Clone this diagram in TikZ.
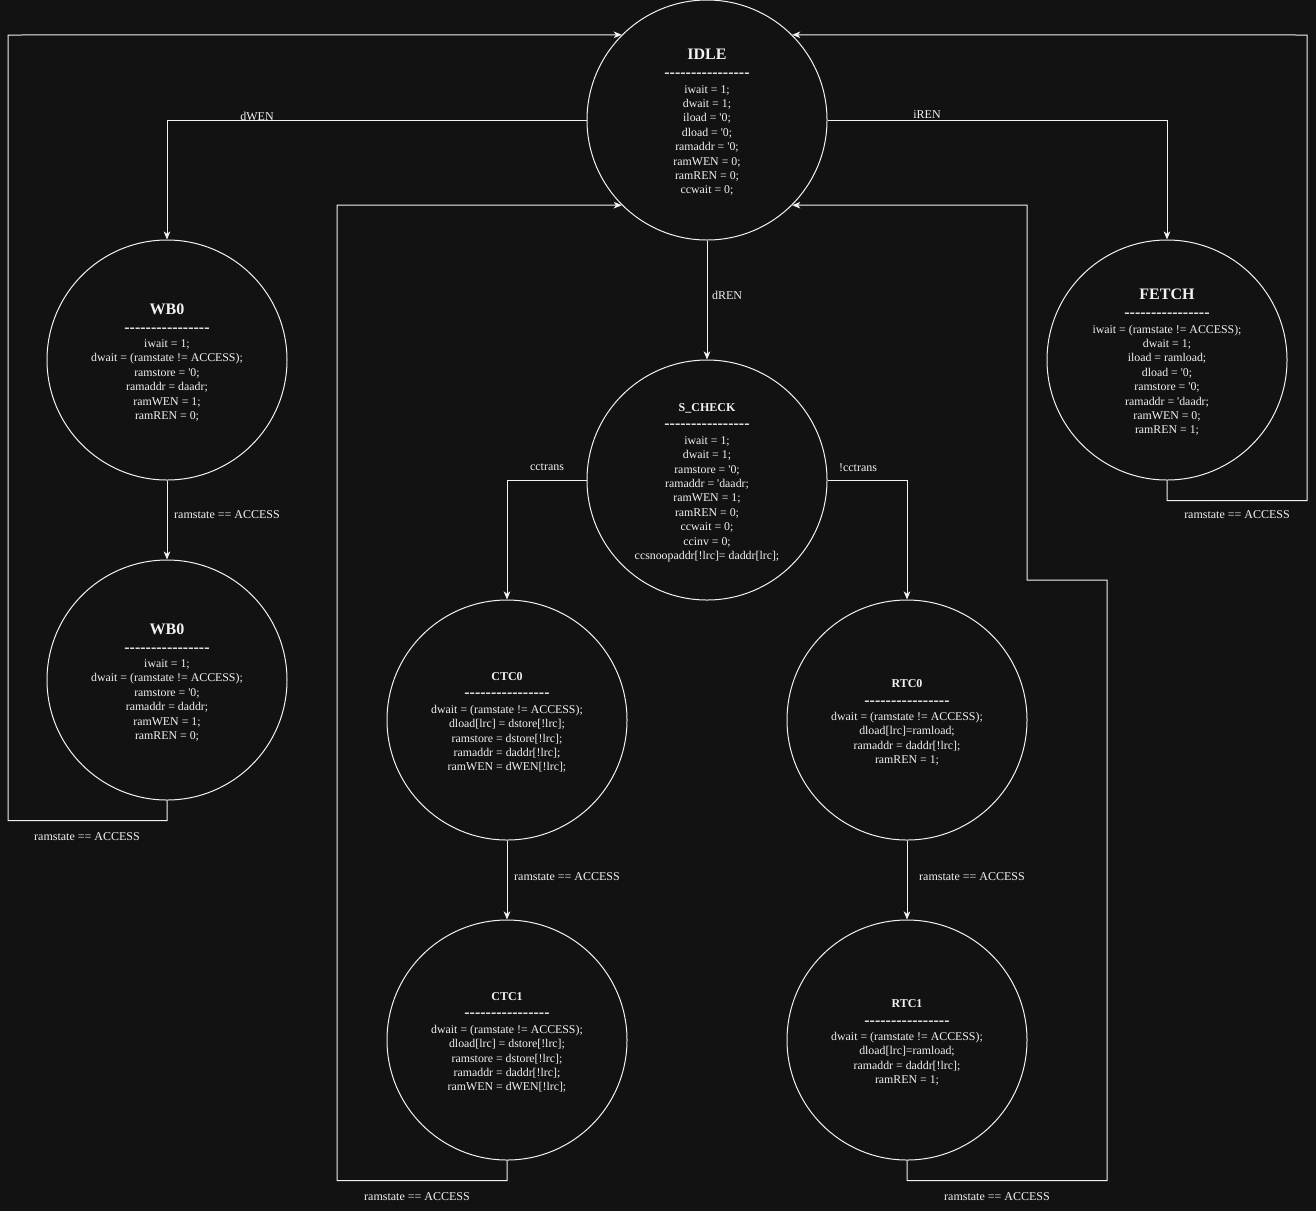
\documentclass[tikz,border=0pt]{standalone}
\usepackage{fontspec}
\setmainfont{Liberation Serif}[Ligatures=TeXOff]
\usetikzlibrary{arrows.meta}

\definecolor{bg}{HTML}{121212}
\definecolor{fg}{HTML}{F2F2F2}

% title, separator row and assignment lines of a state
\newcommand\statetext[3]{%
  {\fontsize{#2}{#2}\selectfont\bfseries\rule{0pt}{\dimexpr0.662em+5pt\relax}#1}\\[3.4pt]%
  {\fontsize{16}{16}\selectfont\bfseries ----------------}\\[1.0pt]%
  #3}

\tikzset{
  state/.style={circle, draw=fg, line width=1pt, minimum size=240pt,
    inner sep=0pt, align=center, text=fg,
    font=\fontsize{11.85}{14.4}\selectfont},
  conn/.style={draw=fg, line width=1pt,
    -{Stealth[length=8pt,width=6.5pt,inset=2.2pt]}},
  lbl/.style={text=fg, inner sep=0pt, yshift=-1pt,
    font=\fontsize{12}{14}\selectfont}
}

\begin{document}
\begin{tikzpicture}[x=1pt, y=-1pt]
  \fill[bg] (0,0) rectangle (1316,1211);
  \useasboundingbox (0,0) rectangle (1316,1211);

  % states
  \node[state] (idle) at (707,120) {\statetext{IDLE}{16}{iwait = 1;\\dwait = 1;\\iload = '0;\\dload = '0;\\ramaddr = '0;\\ramWEN = 0;\\ramREN = 0;\\ccwait = 0;}};

  \node[state] (wb0) at (167,360) {\statetext{WB0}{16}{iwait = 1;\\dwait = (ramstate != ACCESS);\\ramstore = '0;\\ramaddr = daadr;\\ramWEN = 1;\\ramREN = 0;}};

  \node[state] (wb1) at (167,680) {\statetext{WB0}{16}{iwait = 1;\\dwait = (ramstate != ACCESS);\\ramstore = '0;\\ramaddr = daddr;\\ramWEN = 1;\\ramREN = 0;}};

  \node[state] (fetch) at (1167,360) {\statetext{FETCH}{16}{iwait = (ramstate != ACCESS);\\dwait = 1;\\iload = ramload;\\dload = '0;\\ramstore = '0;\\ramaddr = 'daadr;\\ramWEN = 0;\\ramREN = 1;}};

  \node[state] (scheck) at (707,480) {\statetext{S\_CHECK}{12}{iwait = 1;\\dwait = 1;\\ramstore = '0;\\ramaddr = 'daadr;\\ramWEN = 1;\\ramREN = 0;\\ccwait = 0;\\ccinv = 0;\\ccsnoopaddr[!lrc]= daddr[lrc];}};

  \node[state] (ctc0) at (507,720) {\statetext{CTC0}{12}{dwait = (ramstate != ACCESS);\\dload[lrc] = dstore[!lrc];\\ramstore = dstore[!lrc];\\ramaddr = daddr[!lrc];\\ramWEN = dWEN[!lrc];}};

  \node[state] (rtc0) at (907,720) {\statetext{RTC0}{12}{dwait = (ramstate != ACCESS);\\dload[lrc]=ramload;\\ramaddr = daddr[!lrc];\\ramREN = 1;}};

  \node[state] (ctc1) at (507,1040) {\statetext{CTC1}{12}{dwait = (ramstate != ACCESS);\\dload[lrc] = dstore[!lrc];\\ramstore = dstore[!lrc];\\ramaddr = daddr[!lrc];\\ramWEN = dWEN[!lrc];}};

  \node[state] (rtc1) at (907,1040) {\statetext{RTC1}{12}{dwait = (ramstate != ACCESS);\\dload[lrc]=ramload;\\ramaddr = daddr[!lrc];\\ramREN = 1;}};

  % transitions out of IDLE
  \draw[conn] (idle.west) -| (wb0.north);
  \node[lbl] (lwen) at (257,115) {dWEN};
  \draw[conn] (idle.east) -| (fetch.north);
  \node[lbl] (lren) at (927,114) {iREN};
  \draw[conn] (idle.south) -- (scheck.north);
  \node[lbl] (ldren) at (727,294) {dREN};

  % write-back chain
  \draw[conn] (wb0.south) -- (wb1.north);
  \node[lbl] (lwb0) at (227,514) {ramstate == ACCESS};
  \draw[conn] (wb1.south) -- ++(0,20) -| (8,35) -- (idle.135);
  \node[lbl] (lwb1) at (87,836) {ramstate == ACCESS};

  % fetch loop
  \draw[conn] (fetch.south) -- ++(0,20) -| (1307,35) -- (idle.45);
  \node[lbl] (lfetch) at (1237,514) {ramstate == ACCESS};

  % snoop check branches
  \draw[conn] (scheck.west) -| (ctc0.north);
  \node[lbl] (lcc) at (547,466) {cctrans};
  \draw[conn] (scheck.east) -| (rtc0.north);
  \node[lbl] (lncc) at (858,467) {!cctrans};

  \draw[conn] (ctc0.south) -- (ctc1.north);
  \node[lbl] (lctc0) at (567,876) {ramstate == ACCESS};
  \draw[conn] (rtc0.south) -- (rtc1.north);
  \node[lbl] (lrtc0) at (972,876) {ramstate == ACCESS};

  % returns to IDLE
  \draw[conn] (ctc1.south) -- ++(0,20) -| (337,205) -- (idle.225);
  \node[lbl] (lctc1) at (417,1196) {ramstate == ACCESS};
  \draw[conn] (rtc1.south) -- ++(0,20) -| (1107,580) -| (1027,205) -- (idle.-45);
  \node[lbl] (lrtc1) at (997,1196) {ramstate == ACCESS};
\end{tikzpicture}
\end{document}
